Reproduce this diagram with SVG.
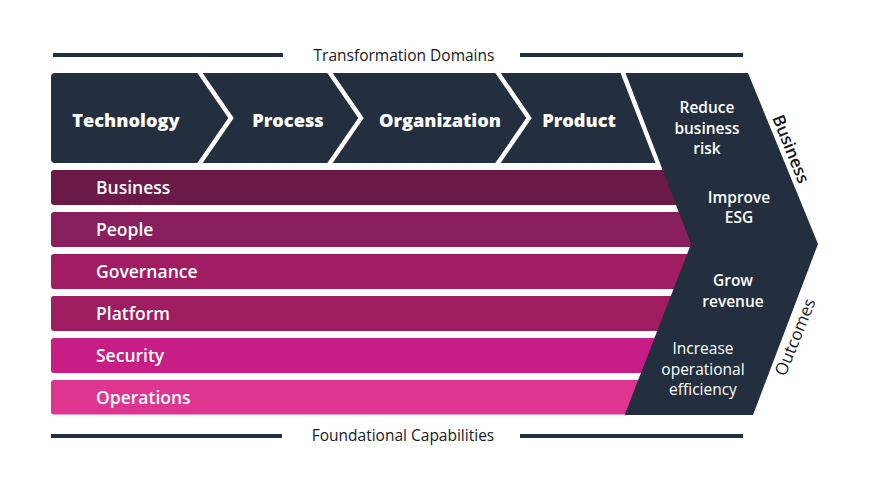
<svg xmlns="http://www.w3.org/2000/svg" width="876" height="482" viewBox="0 0 876 482">
<defs>
<style>
.dark{fill:#232f3e}
.rule{stroke:#232f3e;stroke-width:4;fill:none}
.title{font-family:"Open Sans","Liberation Sans",sans-serif;font-size:15.5px;font-weight:500;fill:#16191f;text-anchor:middle}
.dom{font-family:"Open Sans","Liberation Sans",sans-serif;font-size:18.2px;font-weight:800;fill:#ffffff;text-anchor:middle}
.cap{font-family:"Open Sans","Liberation Sans",sans-serif;font-size:17.5px;font-weight:600;fill:#ffffff}
.out{font-family:"Open Sans","Liberation Sans",sans-serif;font-size:15.5px;font-weight:600;fill:#ffffff;text-anchor:middle}
.outr{font-family:"Open Sans","Liberation Sans",sans-serif;font-size:15.5px;font-weight:400;fill:#ffffff;text-anchor:middle}
.side{font-family:"Open Sans","Liberation Sans",sans-serif;font-size:17px;font-weight:600;fill:#16191f;text-anchor:middle}
.sider{font-family:"Open Sans","Liberation Sans",sans-serif;font-size:17px;font-weight:500;fill:#16191f;text-anchor:middle}
</style>
</defs>
<rect width="876" height="482" fill="#ffffff"/>

<g id="connectors">
<line class="rule" x1="53" y1="55" x2="283" y2="55"/>
<line class="rule" x1="520" y1="55" x2="743" y2="55"/>
<line class="rule" x1="51" y1="436" x2="282" y2="436"/>
<line class="rule" x1="520" y1="436" x2="743" y2="436"/>
</g>

<g id="title-top"><text class="title" x="404" y="60.5">Transformation Domains</text></g>
<g id="title-bottom"><text class="title" x="403" y="441">Foundational Capabilities</text></g>

<g id="technology">
<path class="dark" d="M51,77 Q51,73 55,73 L197.3,73 L228.3,118 L197.3,163 L55,163 Q51,163 51,159 Z"/>
<text class="dom" x="126" y="127">Technology</text>
</g>
<g id="process">
<path class="dark" d="M202.7,73 L327.3,73 L358.3,118 L327.3,163 L202.7,163 L233.7,118 Z"/>
<text class="dom" x="288" y="127">Process</text>
</g>
<g id="organization">
<path class="dark" d="M332.7,73 L495.3,73 L526.3,118 L495.3,163 L332.7,163 L363.7,118 Z"/>
<text class="dom" x="440" y="127">Organization</text>
</g>
<g id="product">
<path class="dark" d="M500.7,73 L620.5,73 L655.5,163 L500.7,163 L531.7,118 Z"/>
<text class="dom" x="579" y="127">Product</text>
</g>

<g id="business">
<rect x="51" y="170" width="650" height="35" rx="3" fill="#6b1a48"/>
<text class="cap" x="96" y="194">Business</text>
</g>
<g id="people">
<rect x="51" y="212" width="650" height="35" rx="3" fill="#8a1f5d"/>
<text class="cap" x="96" y="236">People</text>
</g>
<g id="governance">
<rect x="51" y="254" width="650" height="35" rx="3" fill="#a11d63"/>
<text class="cap" x="96" y="278">Governance</text>
</g>
<g id="platform">
<rect x="51" y="296" width="650" height="35" rx="3" fill="#9e1c60"/>
<text class="cap" x="96" y="320">Platform</text>
</g>
<g id="security">
<rect x="51" y="338" width="650" height="35" rx="3" fill="#c81c86"/>
<text class="cap" x="96" y="362">Security</text>
</g>
<g id="operations">
<rect x="51" y="380" width="650" height="34.5" rx="3" fill="#de3591"/>
<text class="cap" x="96" y="404">Operations</text>
</g>

<g id="outcomes">
<path class="dark" d="M625.5,73 L748,73 L818,244 L753,415 L624.6,415 L691,244 Z"/>
<text class="out" x="707" y="113">Reduce</text>
<text class="out" x="707" y="134">business</text>
<text class="out" x="707" y="154">risk</text>
<text class="out" x="739" y="203">Improve</text>
<text class="out" x="739" y="223">ESG</text>
<text class="out" x="733" y="286">Grow</text>
<text class="out" x="733" y="307">revenue</text>
<text class="outr" x="703" y="354">Increase</text>
<text class="outr" x="703" y="375">operational</text>
<text class="outr" x="703" y="395">efficiency</text>
</g>

<g id="label-business"><text class="side" transform="translate(791,149) rotate(68)" y="6">Business</text></g>
<g id="label-outcomes"><text class="sider" transform="translate(795,337) rotate(-68)" y="6">Outcomes</text></g>
</svg>
